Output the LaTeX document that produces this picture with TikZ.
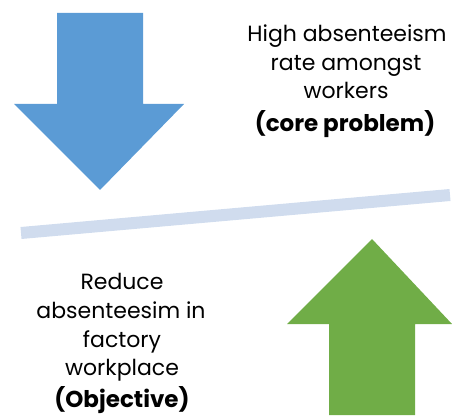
\documentclass[tikz,border=0pt]{standalone}
\usepackage{fontspec}
\setmainfont{Poppins}
\definecolor{arrblue}{HTML}{5B9BD5}
\definecolor{arrgreen}{HTML}{70AD47}
\definecolor{barblue}{HTML}{D0DCEE}
\begin{document}
\begin{tikzpicture}[x=1pt,y=-1pt,
  lbl/.style={font=\fontsize{22}{28.5}\selectfont, align=center, inner sep=0pt, anchor=base},
  bold/.style={font=\fontsize{23}{28.5}\selectfont\bfseries, inner sep=0pt, anchor=base}]
\useasboundingbox (0,0) rectangle (452,419);
% blue down arrow
\fill[arrblue] (57,13) -- (143,13) -- (143,104) -- (184,104) -- (100,190) -- (14,104) -- (57,104) -- cycle;
% green up arrow
\fill[arrgreen] (329,415) -- (415,415) -- (415,324) -- (452,324) -- (372,239) -- (287,324) -- (329,324) -- cycle;
% bar
\coordinate (b1) at (21,233);
\coordinate (b2) at (450,195);
\draw[barblue, line width=12pt, line cap=butt] (b1) -- (b2);
% texts
\node[lbl] (t1) at (347,42) {High absenteeism};
\node[lbl] (t2) at (346,71) {rate amongst};
\node[lbl] (t3) at (346,99) {workers};
\node[bold] (t4) at (345,132) {(core problem)};
\node[lbl] (u1) at (122,290) {Reduce};
\node[lbl] (u2) at (121,319) {absenteesim in};
\node[lbl] (u3) at (122,347) {factory};
\node[lbl] (u4) at (122,375) {workplace};
\node[bold] (u5) at (122,407) {(Objective)};
\end{tikzpicture}
\end{document}
